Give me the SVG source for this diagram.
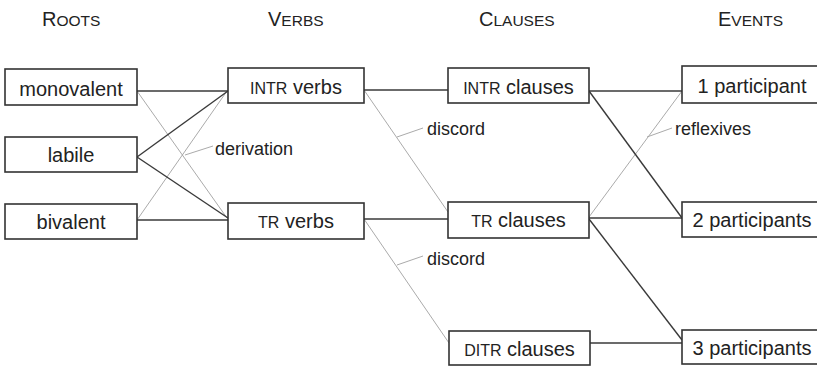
<svg xmlns="http://www.w3.org/2000/svg" width="817" height="366" viewBox="0 0 817 366">
<style>
text{font-family:"Liberation Sans",Arial,sans-serif;fill:#222}
.hd{font-size:20px}
.hd tspan.sc{font-size:15.5px}
.box rect{fill:#fff;stroke:#333;stroke-width:1.6}
.box text{font-size:20px;text-anchor:middle}
.box tspan.sc{font-size:16px}
.lbl{font-size:18px}
.solid{stroke:#3a3a3a;stroke-width:1.4;fill:none}
.thin{stroke:#a0a0a0;stroke-width:0.9;fill:none}
</style>
<rect width="817" height="366" fill="#fff"/>
<g id="headers">
<text class="hd" x="42" y="26">R<tspan class="sc">OOTS</tspan></text>
<text class="hd" x="268" y="26">V<tspan class="sc">ERBS</tspan></text>
<text class="hd" x="479" y="26">C<tspan class="sc">LAUSES</tspan></text>
<text class="hd" x="718" y="26">E<tspan class="sc">VENTS</tspan></text>
</g>
<g id="connectors">
<line class="thin" x1="137" y1="91" x2="227" y2="218"/>
<line class="thin" x1="137" y1="220" x2="227" y2="91"/>
<line class="thin" x1="185" y1="155" x2="213" y2="146"/>
<line class="thin" x1="364" y1="90" x2="448" y2="212"/>
<line class="thin" x1="397" y1="137" x2="423" y2="128"/>
<line class="thin" x1="364" y1="219" x2="449" y2="343"/>
<line class="thin" x1="397" y1="265" x2="423" y2="256"/>
<line class="thin" x1="682" y1="91" x2="589" y2="217"/>
<line class="thin" x1="647" y1="137" x2="672" y2="128"/>
<line class="solid" x1="137" y1="91" x2="228" y2="91"/>
<line class="solid" x1="137" y1="157" x2="228" y2="91"/>
<line class="solid" x1="137" y1="157" x2="228" y2="218"/>
<line class="solid" x1="137" y1="220" x2="228" y2="220"/>
<line class="solid" x1="364" y1="90" x2="448" y2="90"/>
<line class="solid" x1="364" y1="219" x2="448" y2="219"/>
<line class="solid" x1="589" y1="91" x2="682" y2="91"/>
<line class="solid" x1="589" y1="91" x2="682" y2="218"/>
<line class="solid" x1="589" y1="218" x2="682" y2="218"/>
<line class="solid" x1="589" y1="219" x2="682" y2="340"/>
<line class="solid" x1="590" y1="343" x2="682" y2="343"/>
</g>
<g id="labels">
<text class="lbl" x="215" y="155">derivation</text>
<text class="lbl" x="427" y="135">discord</text>
<text class="lbl" x="427" y="265">discord</text>
<text class="lbl" x="675" y="135">reflexives</text>
</g>
<g id="monovalent" class="box"><rect x="5" y="69" width="132" height="36"/><text x="71" y="96">monovalent</text></g>
<g id="labile" class="box"><rect x="5" y="137" width="132" height="35"/><text x="71" y="162">labile</text></g>
<g id="bivalent" class="box"><rect x="5" y="204" width="132" height="35"/><text x="71" y="229">bivalent</text></g>
<g id="intr-verbs" class="box"><rect x="228" y="68" width="136" height="35"/><text x="296" y="94"><tspan class="sc">INTR</tspan> verbs</text></g>
<g id="tr-verbs" class="box"><rect x="228" y="203" width="136" height="36"/><text x="296" y="228"><tspan class="sc">TR</tspan> verbs</text></g>
<g id="intr-clauses" class="box"><rect x="448" y="68" width="141" height="35"/><text x="518.5" y="94"><tspan class="sc">INTR</tspan> clauses</text></g>
<g id="tr-clauses" class="box"><rect x="448" y="202" width="141" height="36"/><text x="518.5" y="227"><tspan class="sc">TR</tspan> clauses</text></g>
<g id="ditr-clauses" class="box"><rect x="449" y="331" width="141" height="34"/><text x="519.5" y="356"><tspan class="sc">DITR</tspan> clauses</text></g>
<g id="one-participant" class="box"><rect x="682" y="66" width="145" height="37"/><text x="752" y="93">1 participant</text></g>
<g id="two-participants" class="box"><rect x="682" y="202" width="145" height="35"/><text x="752" y="227">2 participants</text></g>
<g id="three-participants" class="box"><rect x="682" y="330" width="145" height="34"/><text x="752" y="355">3 participants</text></g>
</svg>
